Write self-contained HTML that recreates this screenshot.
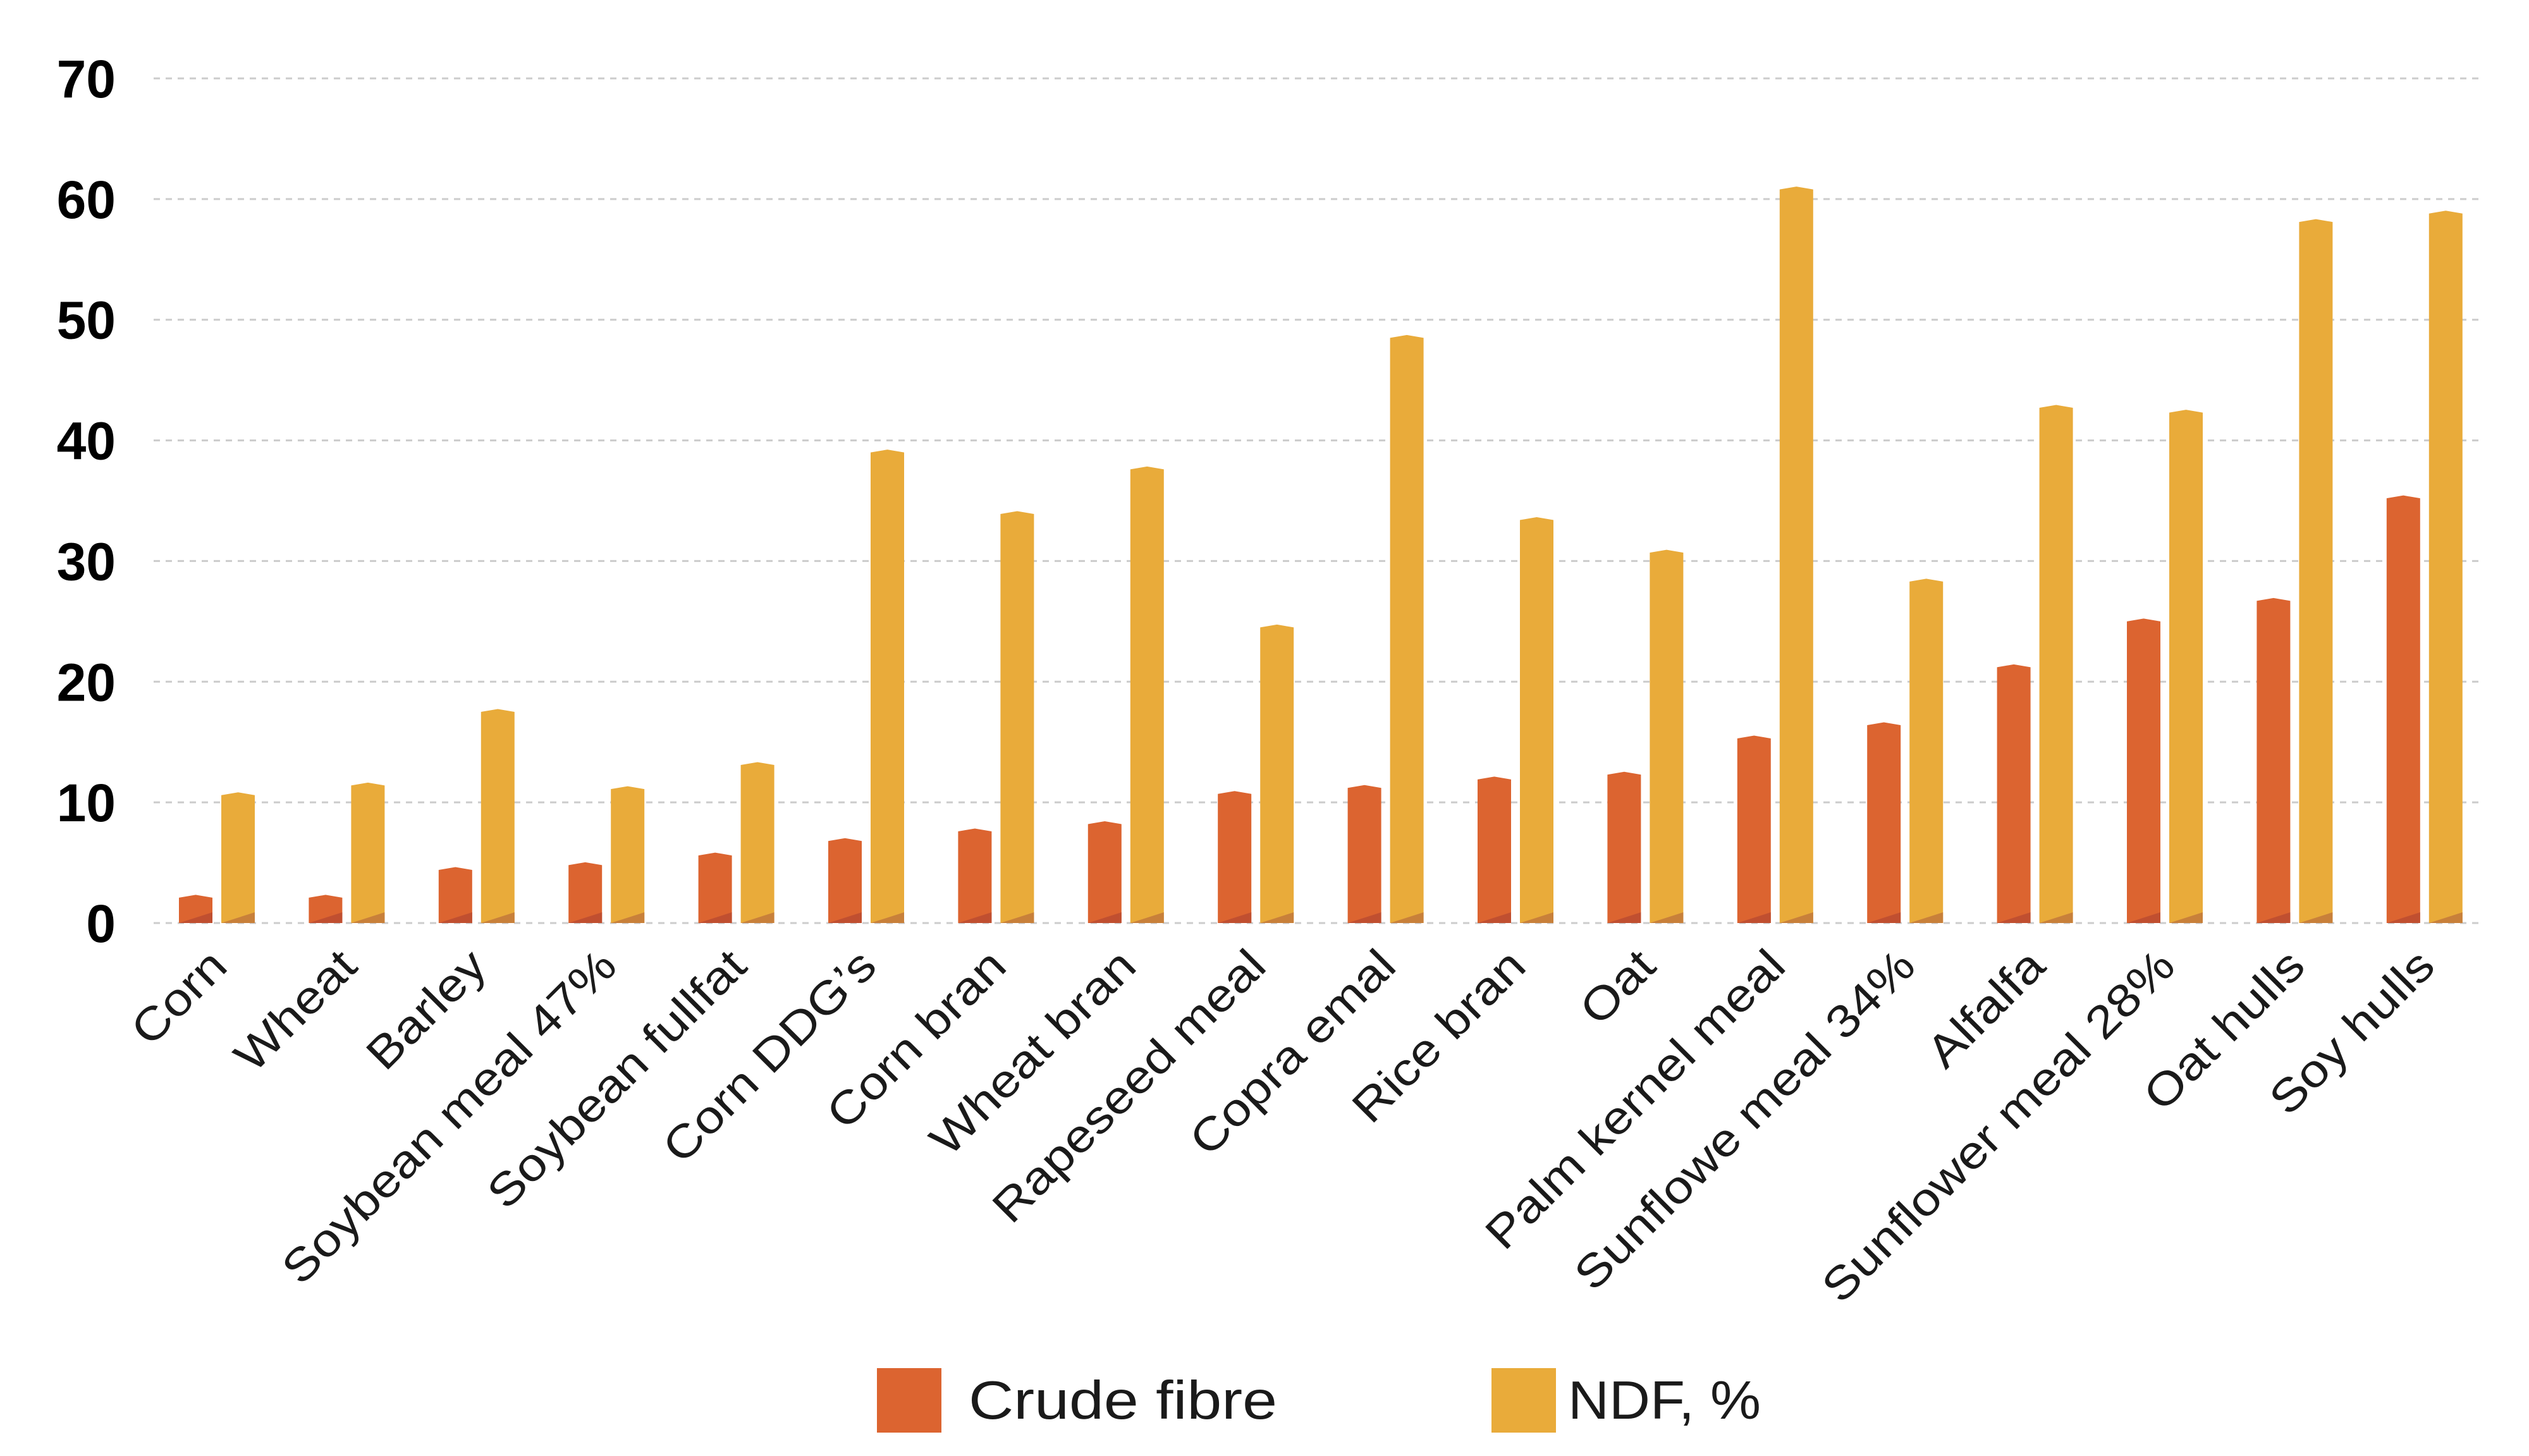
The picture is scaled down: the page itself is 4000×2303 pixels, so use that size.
<!DOCTYPE html>
<html><head><meta charset="utf-8"><style>
html,body{margin:0;padding:0;background:#fff;}
svg{display:block;}
</style></head><body>
<svg id="chart" width="4000" height="2303" viewBox="0 0 4000 2303" xmlns="http://www.w3.org/2000/svg">
<g id="grid"></g>
<g id="yticks"></g>
<g id="bars"></g>
<g id="xlabels"></g>
<g>
  <g>
    <rect x="1387" y="2164" width="102" height="102" fill="#dc6430"/>
    <text x="1532" y="2244" font-family="Liberation Sans, sans-serif" font-size="85" fill="#1a1a1a" textLength="488" lengthAdjust="spacingAndGlyphs">Crude fibre</text>
  </g>
  <g>
    <rect x="2359" y="2164" width="102" height="102" fill="#e9ab3a"/>
    <text x="2480" y="2244" font-family="Liberation Sans, sans-serif" font-size="85" fill="#1a1a1a" textLength="305" lengthAdjust="spacingAndGlyphs">NDF, %</text>
  </g>
</g>
</svg>
<script>
const categories = ["Corn","Wheat","Barley","Soybean meal 47%","Soybean fullfat","Corn DDG’s","Corn bran","Wheat bran","Rapeseed meal","Copra emal","Rice bran","Oat","Palm kernel meal","Sunflowe meal 34%","Alfalfa","Sunflower meal 28%","Oat hulls","Soy hulls"];
const crudeFibre = [2.1,2.1,4.4,4.8,5.6,6.8,7.6,8.2,10.7,11.2,11.9,12.3,15.3,16.4,21.2,25.0,26.7,35.2];
const ndf = [10.6,11.4,17.5,11.1,13.1,39.0,33.9,37.6,24.5,48.5,33.4,30.7,60.8,28.3,42.7,42.3,58.1,58.8];
const yTicks = [0,10,20,30,40,50,60,70];

const NS = "http://www.w3.org/2000/svg";
const Y0 = 1460, YTOP = 124, YMAX = 70;
function y(v){ return Y0 - (Y0 - YTOP) * v / YMAX; }
const GX0 = 283, GSTEP = 205.4, BW = 53, GAP = 14;
function groupX(i){ return GX0 + i * GSTEP; }
function mk(tag, attrs, parent){ const e = document.createElementNS(NS, tag); for (const k in attrs) e.setAttribute(k, attrs[k]); parent.appendChild(e); return e; }

const grid = document.getElementById('grid');
const yt = document.getElementById('yticks');
yTicks.forEach(t => {
  const l = mk('line', {x1:243, x2:3928, y1:y(t), y2:y(t), stroke:'#cccccc', 'stroke-width':3, 'stroke-dasharray':'10 9'}, grid);
  
  
  const tx = mk('text', {x:183, y:y(t)+30, 'text-anchor':'end', 'font-family':'Liberation Sans, sans-serif', 'font-weight':'bold', 'font-size':84, fill:'#000'}, yt);
  tx.textContent = t;
  
  
});

const bars = document.getElementById('bars');
function bar(x, v, fill, shade, name){
  const top = y(v);
  const g = mk('g', {}, bars);
  
  
  const p = mk('polygon', {points: `${x},${Y0} ${x},${top} ${x+BW/2},${top-4.5} ${x+BW},${top} ${x+BW},${Y0}`, fill: fill}, g);
  
  
  const sh = Math.min(17, Y0 - top);
  const s = mk('polygon', {points: `${x},${Y0} ${x+BW},${Y0-sh} ${x+BW},${Y0}`, fill: shade}, g);
  
  
}
const xl = document.getElementById('xlabels');
categories.forEach((c, i) => {
  const gx = groupX(i);
  const slug = c.toLowerCase().replace(/[^a-z0-9]+/g, '-');
  bar(gx, crudeFibre[i], '#dc6430', '#c04f30', 'bar-crude-' + slug);
  bar(gx + BW + GAP, ndf[i], '#e9ab3a', '#c8803a', 'bar-ndf-' + slug);
  const cx = gx + BW + GAP/2 + 20, cy = 1532;
  const t = mk('text', {x:cx, y:cy, 'text-anchor':'end', 'font-family':'Liberation Sans, sans-serif', 'font-size':72, fill:'#1a1a1a', transform:`rotate(-45 ${cx} ${cy})`}, xl);
  t.textContent = c;
  
  
  const w = t.getComputedTextLength();
  if (w > 0) { t.setAttribute('textLength', (w * 1.14).toFixed(1)); t.setAttribute('lengthAdjust', 'spacingAndGlyphs'); }
});
</script>
</body></html>
